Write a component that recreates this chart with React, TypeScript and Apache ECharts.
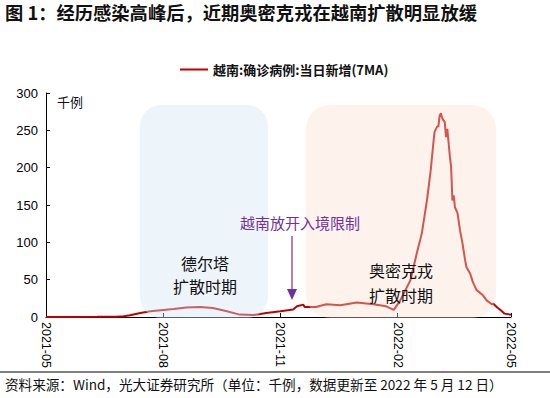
import React, { useEffect, useRef } from "react";
import * as echarts from "echarts";

const seriesName = "越南:确诊病例:当日新增(7MA)";
const dates: string[] = [
  "2021-05-01", "2021-05-20", "2021-06-10", "2021-06-25", "2021-07-01", "2021-07-06", "2021-07-14",
  "2021-07-22", "2021-07-30", "2021-08-09", "2021-08-19", "2021-08-30", "2021-09-09", "2021-09-20",
  "2021-09-30", "2021-10-11", "2021-10-21", "2021-11-01", "2021-11-11", "2021-11-14", "2021-11-19",
  "2021-11-20", "2021-11-29", "2021-12-07", "2021-12-18", "2021-12-31", "2022-01-13", "2022-01-23",
  "2022-01-29", "2022-02-03", "2022-02-11", "2022-02-16", "2022-02-20", "2022-02-24", "2022-02-26",
  "2022-02-27", "2022-03-01", "2022-03-02", "2022-03-04", "2022-03-05", "2022-03-06", "2022-03-07",
  "2022-03-08", "2022-03-10", "2022-03-11", "2022-03-12", "2022-03-14", "2022-03-15", "2022-03-16",
  "2022-03-17", "2022-03-18", "2022-03-20", "2022-03-22", "2022-03-24", "2022-03-26", "2022-03-27",
  "2022-03-30", "2022-04-01", "2022-04-04", "2022-04-09", "2022-04-12", "2022-04-16", "2022-04-17",
  "2022-04-20", "2022-04-23", "2022-04-26", "2022-05-01",
];
const values: number[] = [
  0.05, 0.1, 0.25, 0.5, 1, 2.3, 5.4,
  7.6, 9, 10.7, 12.6, 13.4, 12, 7.6,
  3.2, 2.7, 5.4, 7.6, 9.9, 14.3, 16.6,
  13.4, 13.4, 17, 15.7, 19.3, 17, 14.3,
  9.5, 22, 49, 85, 112, 156, 183,
  197, 232, 248, 255, 255, 270, 273,
  266, 261, 241, 252, 215, 201, 156,
  163, 147, 139, 116, 98, 76, 67,
  58, 47, 36, 29, 22, 17, 18,
  13, 9, 4.5, 3,
];
const xTickDates: string[] = ["2021-05-01", "2021-08-01", "2021-11-01", "2022-02-01", "2022-05-01"];
const yTicks: number[] = [0, 50, 100, 150, 200, 250, 300];

const title = "图 1：经历感染高峰后，近期奥密克戎在越南扩散明显放缓";
const footer = "资料来源：Wind，光大证券研究所（单位：千例，数据更新至 2022 年 5 月 12 日）";
const unitLabel = "千例";
const deltaText = ["德尔塔", "扩散时期"];
const omicronText = ["奥密克戎", "扩散时期"];
const eventText = "越南放开入境限制";

const ts = (s: string) => {
  const [y, m, d] = s.split("-").map(Number);
  return Date.UTC(y, m - 1, d);
};

const FONT = "'Liberation Sans', 'Noto Sans CJK SC', sans-serif";
const CJK = "'Noto Sans CJK SC', sans-serif";

export default function App() {
  const ref = useRef<HTMLDivElement>(null);
  useEffect(() => {
    if (!ref.current) return;
    const chart = echarts.init(ref.current, undefined, { renderer: "svg" });
    const data = dates.map((d, i) => [ts(d), values[i]]);
    const tickVals = xTickDates.map(ts);
    const purple = "#7030a0";
    chart.setOption({
      animation: false,
      textStyle: { fontFamily: FONT },
      grid: { left: 46, right: 39, top: 93, bottom: 81, containLabel: false },
      legend: {
        left: 175,
        top: 58,
        itemWidth: 28,
        itemHeight: 2,
        icon: "rect",
        itemGap: 5,
        textStyle: { fontSize: 13, fontWeight: "bold", color: "#111", fontFamily: CJK },
        data: [seriesName],
      },
      xAxis: {
        type: "value",
        min: tickVals[0],
        max: tickVals[tickVals.length - 1],
        splitLine: { show: false },
        axisLine: { lineStyle: { color: "#000", width: 1 } },
        axisTick: { inside: true, length: 4, customValues: tickVals, lineStyle: { color: "#000" } },
        axisLabel: {
          customValues: tickVals,
          rotate: -90,
          margin: 5,
          fontSize: 12.5,
          color: "#000",
          fontFamily: FONT,
          formatter: (v: number) => {
            const d = new Date(v);
            const m = d.getUTCMonth() + 1;
            return `${d.getUTCFullYear()}-${m < 10 ? "0" + m : m}`;
          },
        },
      },
      yAxis: {
        type: "value",
        min: 0,
        max: 300,
        interval: 50,
        splitLine: { show: false },
        axisLine: { show: true, lineStyle: { color: "#000", width: 1 } },
        axisTick: { show: true, inside: true, length: 4, lineStyle: { color: "#000" } },
        axisLabel: { fontSize: 13, color: "#000", margin: 8, fontFamily: FONT,
          formatter: (v: number) => (yTicks.includes(v) ? String(v) : "") },
      },
      series: [
        {
          name: seriesName,
          type: "line",
          data,
          symbol: "none",
          lineStyle: { color: "#c00000", width: 2 },
          itemStyle: { color: "#c00000" },
          z: 2,
        },
      ],
      graphic: [
        { type: "text", left: 5, top: 3, style: { text: title, fontSize: 18.3, fontWeight: "bold", fill: "#111", fontFamily: CJK } },
        { type: "text", left: 57, top: 95, style: { text: unitLabel, fontSize: 13, fill: "#111", fontFamily: CJK } },
        { type: "rect", z: 10, shape: { x: 140, y: 105, width: 128, height: 213, r: 21 }, style: { fill: "rgba(215,230,244,0.42)" } },
        { type: "rect", z: 10, shape: { x: 306, y: 105, width: 190, height: 213, r: 24 }, style: { fill: "rgba(250,222,205,0.38)" } },
        { type: "text", z: 11, x: 205, y: 263, style: { text: deltaText[0], fontSize: 16, fill: "#111", align: "center", verticalAlign: "middle", fontFamily: CJK } },
        { type: "text", z: 11, x: 205, y: 286, style: { text: deltaText[1], fontSize: 16, fill: "#111", align: "center", verticalAlign: "middle", fontFamily: CJK } },
        { type: "text", z: 11, x: 401, y: 270, style: { text: omicronText[0], fontSize: 16, fill: "#111", align: "center", verticalAlign: "middle", fontFamily: CJK } },
        { type: "text", z: 11, x: 401, y: 295, style: { text: omicronText[1], fontSize: 16, fill: "#111", align: "center", verticalAlign: "middle", fontFamily: CJK } },
        { type: "text", z: 11, x: 300, y: 222, style: { text: eventText, fontSize: 15, fill: purple, align: "center", verticalAlign: "middle", fontFamily: CJK } },
        { type: "line", z: 11, shape: { x1: 292, y1: 236, x2: 292, y2: 292 }, style: { stroke: purple, lineWidth: 1.2 } },
        { type: "polygon", z: 11, shape: { points: [[287, 289], [297, 289], [292, 300]] }, style: { fill: purple } },
        { type: "line", z: 11, shape: { x1: 0, y1: 372, x2: 550, y2: 372 }, style: { stroke: "#000", lineWidth: 1 } },
        { type: "text", left: 5, top: 377, style: { text: footer, fontSize: 13.6, fill: "#111", fontFamily: CJK } },
      ],
    });
    return () => chart.dispose();
  }, []);
  return <div ref={ref} style={{ position: "absolute", left: 0, top: 0, width: 550, height: 398 }} />;
}
